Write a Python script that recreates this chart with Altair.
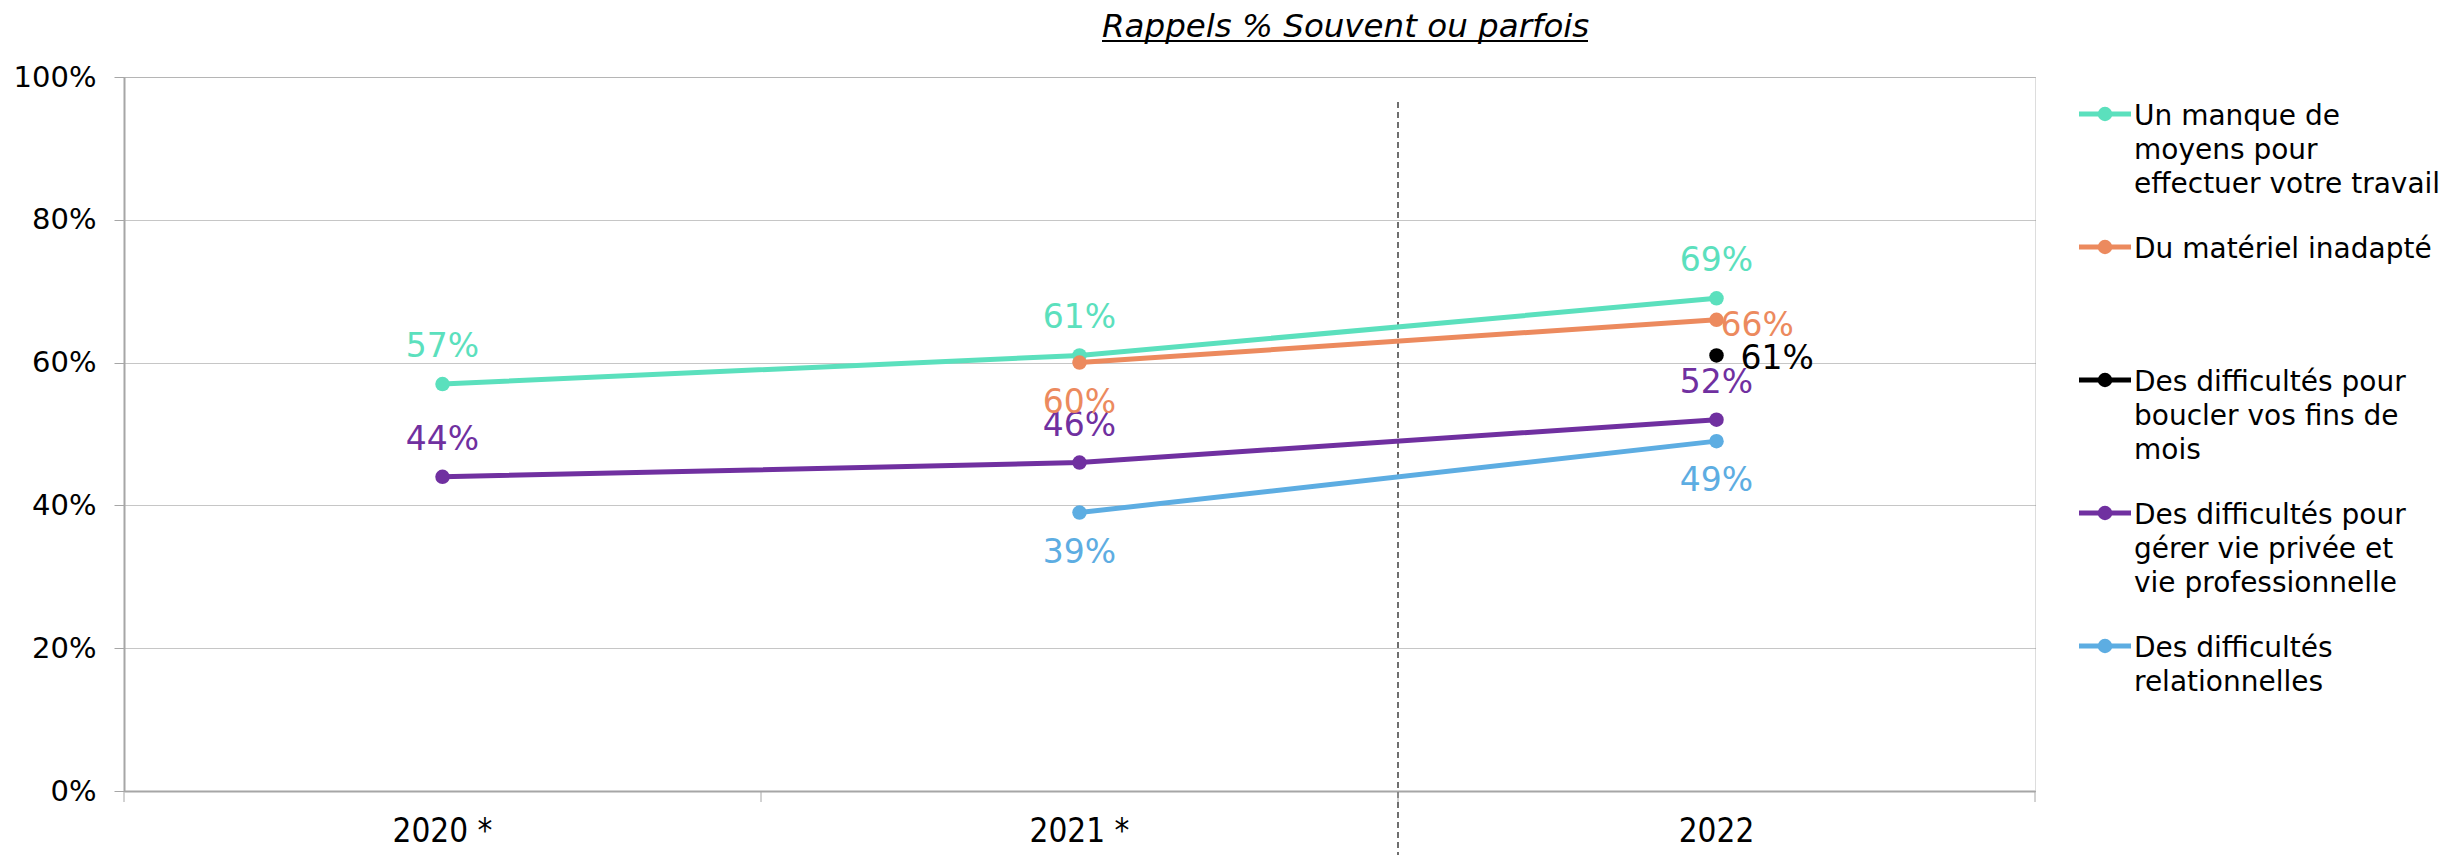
import altair as alt
import pandas as pd

# ---- data ----
years = ["2020 *", "2021 *", "2022"]
series = [
    "Un manque de moyens pour effectuer votre travail",
    "Du matériel inadapté",
    "Des difficultés pour boucler vos fins de mois",
    "Des difficultés pour gérer vie privée et vie professionnelle",
    "Des difficultés relationnelles",
]
legend_lines = [
    ["Un manque de", "moyens pour", "effectuer votre travail"],
    ["Du matériel inadapté"],
    ["Des difficultés pour", "boucler vos fins de", "mois"],
    ["Des difficultés pour", "gérer vie privée et", "vie professionnelle"],
    ["Des difficultés", "relationnelles"],
]
vals_moyens = [57, 61, 69]
vals_materiel = [None, 60, 66]
vals_fins = [None, None, 61]
vals_vie = [44, 46, 52]
vals_relation = [None, 39, 49]
colors = ["#5BE0BD", "#EC8A5E", "#000000", "#7030A0", "#5DADE2"]

all_vals = [vals_moyens, vals_materiel, vals_fins, vals_vie, vals_relation]

# label placement (style, not data)
default_place = ["above", "above", "right2", "above", "below"]
special_place = {
    (series[1], "2021 *"): "below",
    (series[1], "2022"): "right1",
}

rows = []
for s, vals, dp in zip(series, all_vals, default_place):
    for y, v in zip(years, vals):
        if v is None:
            continue
        rows.append({"series": s, "year": y, "value": v / 100.0,
                     "label": f"{v}%",
                     "place": special_place.get((s, y), dp)})
df = pd.DataFrame(rows)
years_df = pd.DataFrame({"year": years})
leg_df = pd.DataFrame({"series": series,
                       "legend_text": ["\n".join(l) for l in legend_lines]})

FONT = "DejaVu Sans"
W, H = 1911, 714
LW = 5
PT = 210

x_scale = alt.Scale(type="band", domain=years, paddingInner=0, paddingOuter=0)
y_scale = alt.Scale(domain=[0, 1], nice=False)

color_enc = alt.Color("series:N", scale=alt.Scale(domain=series, range=colors),
                      legend=None)

x_enc = alt.X(
    "year:N", scale=x_scale, sort=years,
    axis=alt.Axis(title=None, ticks=False, labelAngle=0, labelAlign="center",
                  labelFlush=False, labelPadding=24, labelBaseline="top",
                  labelFont="DejaVu Sans Condensed", labelFontSize=33,
                  labelColor="black", domainColor="#A6A6A6", domainWidth=2,
                  grid=False),
)
y_enc = alt.Y(
    "value:Q", scale=y_scale,
    axis=alt.Axis(title=None, format=".0%", values=[0, 0.2, 0.4, 0.6, 0.8, 1.0],
                  tickSize=10, tickColor="#A6A6A6", labelPadding=18,
                  labelFont=FONT, labelFontSize=29, labelColor="black",
                  domainColor="#A6A6A6", domainWidth=2,
                  grid=True, gridColor="#8C8C8C", gridDash=[1, 1], gridWidth=1),
)

base = alt.Chart(df)

lines = base.mark_line(strokeWidth=LW).encode(x=x_enc, y=y_enc, color=color_enc)
points = base.mark_circle(size=PT, opacity=1).encode(x=x_enc, y=y_enc, color=color_enc)

def label_layer(place, **kw):
    return base.transform_filter(alt.datum.place == place).mark_text(
        font=FONT, fontSize=33, baseline="middle", **kw
    ).encode(x=x_enc, y=y_enc, color=color_enc, text="label:N")

lab_above = label_layer("above", dy=-37, align="center")
lab_below = label_layer("below", dy=40, align="center")
lab_right1 = label_layer("right1", dx=4, dy=6, align="left")
lab_right2 = label_layer("right2", dx=24, dy=4, align="left")

dashed = alt.Chart(years_df).transform_filter(alt.datum.year == "2022").mark_rule(
    color="#404040", strokeWidth=1.5, strokeDash=[6, 4]
).encode(
    x=alt.X("year:N", scale=x_scale, sort=years, bandPosition=0),
    y=alt.datum(0.965), y2=alt.datum(-0.09),
)

ticks_start = alt.Chart(years_df).mark_rule(color="#A6A6A6", strokeWidth=1).encode(
    x=alt.X("year:N", scale=x_scale, sort=years, bandPosition=0),
    y=alt.value(H), y2=alt.value(H + 11),
)
ticks_end = alt.Chart(years_df).transform_filter(alt.datum.year == "2022").mark_rule(
    color="#A6A6A6", strokeWidth=1
).encode(
    x=alt.X("year:N", scale=x_scale, sort=years, bandPosition=1),
    y=alt.value(H), y2=alt.value(H + 11),
)

underline = alt.Chart(years_df).transform_filter(alt.datum.year == "2022").mark_rule(
    color="black", strokeWidth=2
).encode(x=alt.value(978), x2=alt.value(1464), y=alt.value(-36))

main = alt.layer(
    dashed, ticks_start, ticks_end, lines, points,
    lab_above, lab_below, lab_right1, lab_right2, underline,
)

# ---- manual legend (to the right of the plot) ----
ly = alt.Y("series:N", sort=series, axis=None,
           scale=alt.Scale(type="point", domain=series, range=[37, 569], padding=0))
leg_base = alt.Chart(leg_df)
leg_line = leg_base.mark_rule(strokeWidth=LW).encode(
    x=alt.value(W + 44), x2=alt.value(W + 96), y=ly, color=color_enc)
leg_pt = leg_base.mark_circle(size=PT, opacity=1).encode(
    x=alt.value(W + 70), y=ly, color=color_enc)
leg_txt = leg_base.mark_text(
    align="left", baseline="alphabetic", dy=11, lineBreak="\n", lineHeight=34,
    font=FONT, fontSize=28, color="black",
).encode(x=alt.value(W + 99), y=ly, text="legend_text:N")
legend = alt.layer(leg_line, leg_pt, leg_txt)

chart = alt.layer(main, legend).resolve_scale(y="independent").properties(
    width=W, height=H,
    padding={"left": 5, "top": 2, "right": 5, "bottom": 5},
    title=alt.Title("Rappels % Souvent ou parfois", font=FONT, fontSize=32.5,
                    fontStyle="italic", fontWeight="normal", color="black",
                    anchor="start", frame="group", dx=978, offset=-3),
).configure_view(stroke=None).configure(background="white")

chart.save("out.html", embed_options={"renderer": "svg", "actions": False})
